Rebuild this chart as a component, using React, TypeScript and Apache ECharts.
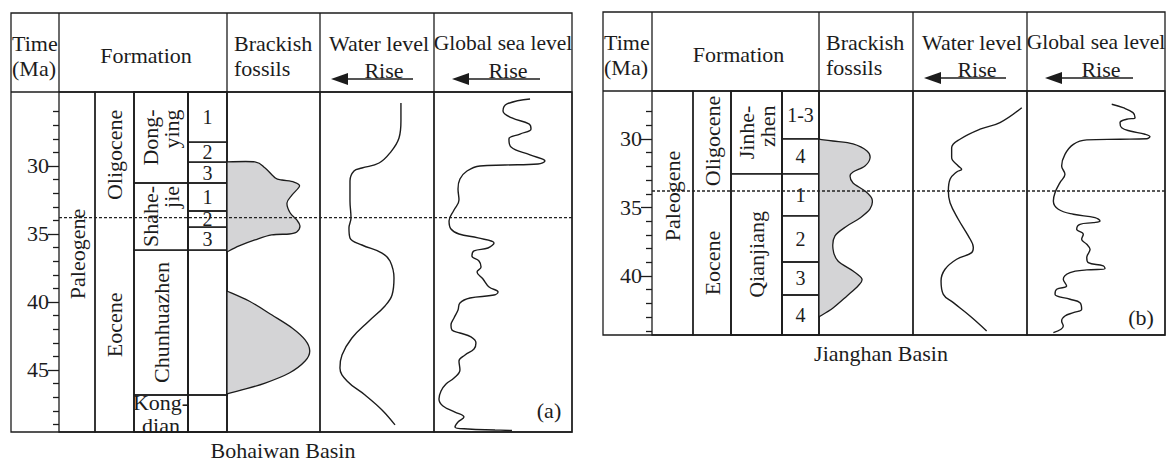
import React, { useEffect, useRef } from 'react';
import * as echarts from 'echarts';

const FONT = '"Liberation Serif", "Times New Roman", Times, serif';
const INK = '#1c1c1c';
const FILL = '#d4d4d6';
const LINE_W = 1.3;
const FS = 22;
const FS_MEMBER = 20;

type Cell = { name: string; top: number; base: number };

// ================= (a) Bohaiwan Basin =================
const A_AGE_RANGE = [24.56, 49.56]; // Ma at top / base of the column
const A_MAJOR_TICKS = [30, 35, 40, 45];
const A_MINOR_TICKS = [26, 27, 28, 29, 31, 32, 33, 34, 36, 37, 38, 39, 41, 42, 43, 44, 46, 47, 48, 49];
const A_PERIODS: Cell[] = [{ name: 'Paleogene', top: 24.56, base: 49.56 }];
const A_EPOCHS: Cell[] = [
  { name: 'Oligocene', top: 24.56, base: 33.8 },
  { name: 'Eocene', top: 33.8, base: 49.56 },
];
const A_FORMATIONS: Cell[] = [
  { name: 'Dong-\nying', top: 24.56, base: 31.25 },
  { name: 'Shahe-\njie', top: 31.25, base: 36.18 },
  { name: 'Chunhuazhen', top: 36.18, base: 46.84 },
  { name: 'Kong-\ndian', top: 46.84, base: 49.56 },
];
const A_MEMBERS: Cell[] = [
  { name: '1', top: 24.56, base: 28.24 },
  { name: '2', top: 28.24, base: 29.71 },
  { name: '3', top: 29.71, base: 31.25 },
  { name: '1', top: 31.25, base: 33.31 },
  { name: '2', top: 33.31, base: 34.49 },
  { name: '3', top: 34.49, base: 36.18 },
  { name: '', top: 36.18, base: 46.84 },
  { name: '', top: 46.84, base: 49.56 },
];
// [relative amount (0-100 of column width), age Ma]
const A_BRACKISH_UPPER = [
  [0, 29.7], [30, 29.7], [41, 30.15], [52, 30.88], [59, 31.03], [72, 31.18], [78, 31.47],
  [70, 32.13], [64.5, 32.72], [68, 33.46], [75, 33.97], [78.5, 34.41], [75, 34.85], [67, 35.0],
  [48, 35.07], [30, 35.44], [13, 35.88], [0, 36.32],
];
const A_BRACKISH_LOWER = [
  [0, 39.19], [23.7, 39.93], [48.4, 40.96], [70, 41.91], [84, 42.79], [89, 43.6], [84, 44.34],
  [67, 45.22], [41, 45.96], [16, 46.47], [0, 46.76],
];
const A_WATER_LEVEL = [
  [71, 25.37], [71, 26.69], [69.3, 27.94], [61.4, 29.04], [51.8, 29.78], [36.8, 30.15], [29.8, 30.37],
  [26.3, 31.1], [26.3, 32.57], [27.2, 33.82], [25.4, 34.56], [26.3, 35.29], [36.8, 35.81], [54.4, 36.4],
  [61.4, 36.99], [64.9, 38.24], [63.2, 39.49], [57, 40.29], [43, 41.4], [28, 42.65], [19.3, 43.9],
  [17.5, 44.85], [23.7, 45.81], [39.5, 46.84], [54.4, 47.94], [65.8, 49.04],
];
const A_SEA_LEVEL = [
  [69.6, 25.07], [52.9, 25.44], [50.0, 25.96], [56.5, 26.47], [68.8, 26.91], [70.3, 27.28], [62.3, 27.65],
  [54.3, 28.01], [55.8, 28.6], [69.6, 29.19], [80.4, 29.63], [75.4, 29.85], [51.4, 29.93], [33.3, 30.0],
  [23.9, 30.37], [18.8, 30.96], [17.4, 31.69], [18.1, 32.5], [14.5, 33.24], [10.9, 34.04], [12.3, 34.63],
  [18.1, 35.0], [31.9, 35.29], [43.5, 35.66], [39.1, 36.03], [29.0, 36.25], [27.5, 36.62], [32.6, 36.99],
  [34.1, 37.43], [31.2, 37.79], [35.5, 38.31], [39.9, 38.9], [46.4, 39.26], [43.5, 39.49], [26.1, 39.71],
  [18.8, 40.07], [17.4, 40.59], [14.5, 41.18], [12.3, 41.69], [13.0, 42.06], [18.8, 42.28], [26.8, 42.57],
  [30.4, 43.01], [29.0, 43.46], [22.5, 43.9], [18.1, 44.34], [18.8, 45.0], [14.5, 45.59], [8.7, 46.03],
  [5.1, 46.54], [3.6, 47.13], [6.5, 47.65], [15.2, 48.09], [21.7, 48.46], [17.4, 48.82], [15.2, 49.19],
  [24.6, 49.34], [44.2, 49.41], [56.5, 49.45],
];

// ================= (b) Jianghan Basin =================
const B_AGE_RANGE = [26.5, 44.31];
const B_MAJOR_TICKS = [30, 35, 40];
const B_MINOR_TICKS = [28, 29, 31, 32, 33, 34, 36, 37, 38, 39, 41, 42, 43, 44];
const B_PERIODS: Cell[] = [{ name: 'Paleogene', top: 26.5, base: 44.31 }];
const B_EPOCHS: Cell[] = [
  { name: 'Oligocene', top: 26.5, base: 33.8 },
  { name: 'Eocene', top: 33.8, base: 44.31 },
];
const B_FORMATIONS: Cell[] = [
  { name: 'Jinhe-\nzhen', top: 26.5, base: 32.55 },
  { name: 'Qianjiang', top: 32.55, base: 44.31 },
];
const B_MEMBERS: Cell[] = [
  { name: '1-3', top: 26.5, base: 30.0 },
  { name: '4', top: 30.0, base: 32.55 },
  { name: '1', top: 32.55, base: 35.62 },
  { name: '2', top: 35.62, base: 38.98 },
  { name: '3', top: 38.98, base: 41.39 },
  { name: '4', top: 41.39, base: 44.31 },
];
const B_BRACKISH = [
  [0, 30.02], [14.9, 30.15], [36.2, 30.36], [51.1, 30.88], [54.3, 31.39], [48.9, 31.97], [36.2, 32.41],
  [33.0, 32.7], [36.2, 33.21], [48.9, 33.8], [56.4, 34.38], [54.3, 35.11], [43.6, 35.77], [29.8, 36.35],
  [17.0, 37.08], [14.9, 38.03], [20.2, 38.91], [36.2, 39.64], [45.7, 40.22], [41.5, 40.73], [29.8, 41.46],
  [14.9, 42.34], [0, 42.99],
];
const B_WATER_LEVEL = [
  [95.4, 27.72], [76.3, 28.81], [58.8, 29.29], [41.2, 30.02], [33.9, 30.64], [33.9, 31.36], [39.7, 31.97],
  [42.7, 32.21], [38.3, 32.41], [32.5, 32.94], [31.0, 33.8], [32.5, 34.65], [39.7, 35.86], [48.5, 37.08],
  [52.9, 37.93], [51.5, 38.3], [38.3, 38.78], [28.1, 39.51], [24.6, 40.36], [26.6, 41.34], [35.4, 41.95],
  [50.0, 42.92], [64.6, 44.01],
];
const B_SEA_LEVEL = [
  [61.4, 27.47], [69.6, 27.72], [76.8, 28.08], [78.3, 28.45], [72.2, 28.56], [67.4, 28.81], [68.6, 29.18],
  [74.6, 29.42], [85.5, 29.66], [89.1, 29.83], [86.7, 29.98], [67.4, 30.02], [43.3, 30.07], [33.6, 30.39],
  [27.5, 31.12], [25.1, 31.97], [27.5, 32.58], [23.9, 33.19], [20.3, 33.92], [19.1, 34.53], [22.7, 35.13],
  [33.6, 35.5], [49.3, 35.74], [52.9, 35.99], [48.0, 36.11], [38.4, 36.23], [36.0, 36.59], [40.8, 36.96],
  [39.6, 37.32], [43.3, 37.69], [45.7, 38.05], [43.3, 38.66], [44.4, 39.03], [55.3, 39.27], [56.5, 39.47],
  [43.3, 39.56], [31.2, 39.76], [26.3, 40.24], [28.7, 40.73], [21.5, 40.97], [20.3, 41.34], [31.2, 41.7],
  [38.4, 41.95], [39.6, 42.43], [33.6, 42.68], [27.5, 42.92], [25.1, 43.28], [26.3, 43.65], [19.1, 44.14],
];

// ================= layout (pixels) =================
const PANELS = [
  {
    box: { left: 11, top: 13, head: 92, bottom: 432 },
    edges: [59, 95, 134, 188, 227, 320, 434, 572],
    range: A_AGE_RANGE, major: A_MAJOR_TICKS, minor: A_MINOR_TICKS,
    periods: A_PERIODS, epochs: A_EPOCHS, formations: A_FORMATIONS, members: A_MEMBERS,
    brackish: [A_BRACKISH_UPPER, A_BRACKISH_LOWER], water: A_WATER_LEVEL, sea: A_SEA_LEVEL,
    tag: '(a)', tagPos: [549, 410], caption: 'Bohaiwan Basin', captionPos: [283, 450], periodShift: -8,
  },
  {
    box: { left: 603, top: 12, head: 91, bottom: 335 },
    edges: [652, 693, 731, 782, 819, 913, 1027, 1165],
    range: B_AGE_RANGE, major: B_MAJOR_TICKS, minor: B_MINOR_TICKS,
    periods: B_PERIODS, epochs: B_EPOCHS, formations: B_FORMATIONS, members: B_MEMBERS,
    brackish: [B_BRACKISH], water: B_WATER_LEVEL, sea: B_SEA_LEVEL,
    tag: '(b)', tagPos: [1141, 317], caption: 'Jianghan Basin', captionPos: [881, 353], periodShift: -17,
  },
];

let measureCtx: CanvasRenderingContext2D | null = null;
function measure(s: string): number {
  if (!measureCtx) measureCtx = document.createElement('canvas').getContext('2d');
  if (!measureCtx) return s.length * 11;
  measureCtx.font = `${FS}px ${FONT}`;
  return measureCtx.measureText(s).width;
}

function smoothPath(pts: number[][]): string {
  let d = `M${pts[0][0]},${pts[0][1]}`;
  for (let i = 0; i < pts.length - 1; i++) {
    const p0 = pts[i - 1] || pts[i];
    const p1 = pts[i];
    const p2 = pts[i + 1];
    const p3 = pts[i + 2] || p2;
    const c1x = p1[0] + (p2[0] - p0[0]) / 6;
    const c1y = p1[1] + (p2[1] - p0[1]) / 6;
    const c2x = p2[0] - (p3[0] - p1[0]) / 6;
    const c2y = p2[1] - (p3[1] - p1[1]) / 6;
    d += ` C${c1x},${c1y} ${c2x},${c2y} ${p2[0]},${p2[1]}`;
  }
  return d;
}

function cellSeries(cells: Cell[], axis: number, mode: string, shift = 0) {
  const boxed = mode === 'formation' || mode === 'member';
  return {
    type: 'custom',
    xAxisIndex: axis,
    yAxisIndex: axis,
    silent: true,
    data: cells.map((c, i) => [c.top, c.base, i]),
    renderItem: (_p: any, api: any) => {
      const a = api.coord([0, api.value(0)]);
      const b = api.coord([100, api.value(1)]);
      const children: any[] = [];
      if (boxed) {
        children.push({
          type: 'rect',
          shape: { x: a[0], y: a[1], width: b[0] - a[0], height: b[1] - a[1] },
          style: { fill: 'none', stroke: INK, lineWidth: LINE_W },
        });
      }
      const name = cells[api.value(2)].name;
      if (name) {
        const cx = (a[0] + b[0]) / 2;
        const cy = (a[1] + b[1]) / 2 + shift;
        const lines = name.split('\n');
        const rotate = mode === 'member' ? false : mode === 'formation' ? b[1] - a[1] > 50 : true;
        if (rotate) {
          const multi = lines.length > 1;
          const w = Math.max(...lines.map(measure));
          children.push({
            type: 'text',
            x: cx,
            y: multi ? cy - w / 2 : cy,
            rotation: Math.PI / 2,
            style: {
              text: name, fill: INK, fontSize: FS, fontFamily: FONT,
              align: multi ? 'right' : 'center', verticalAlign: 'middle', lineHeight: 21,
            },
          });
        } else {
          const fs = mode === 'member' ? FS_MEMBER : FS;
          children.push({
            type: 'text', x: cx, y: cy,
            style: {
              text: name, fill: INK, fontSize: fs, fontFamily: FONT, align: 'center',
              verticalAlign: 'middle', lineHeight: mode === 'member' ? 16 : 23,
            },
          });
        }
      }
      return { type: 'group', children };
    },
  };
}

function buildOption() {
  const grid: any[] = [];
  const xAxis: any[] = [];
  const yAxis: any[] = [];
  const extraY: any[] = [];
  const series: any[] = [];
  const elements: any[] = [];

  const text = (x: number, y: number, t: string, align = 'center', fs = FS) => ({
    type: 'text', x, y, silent: true,
    style: { text: t, fill: INK, fontSize: fs, fontFamily: FONT, align, verticalAlign: 'middle' },
  });
  const line = (x1: number, y1: number, x2: number, y2: number) => ({
    type: 'line', silent: true, shape: { x1, y1, x2, y2 }, style: { stroke: INK, lineWidth: LINE_W },
  });
  const arrow = (x0: number, x1: number, y: number) => [
    line(x0 + 10, y, x1, y),
    { type: 'polygon', silent: true, shape: { points: [[x0, y], [x0 + 17, y - 6], [x0 + 17, y + 6]] }, style: { fill: INK } },
  ];

  PANELS.forEach((P) => {
    const { box, edges } = P;
    const addGrid = (x0: number, x1: number, show = true) => {
      const gi = grid.length;
      grid.push({
        left: x0, top: box.head, width: x1 - x0, height: box.bottom - box.head,
        show, borderColor: INK, borderWidth: LINE_W, backgroundColor: 'transparent',
        containLabel: false, outerBoundsMode: 'none',
      });
      xAxis.push({ gridIndex: gi, type: 'value', min: 0, max: 100, show: false });
      yAxis.push({ gridIndex: gi, type: 'value', inverse: true, min: P.range[0], max: P.range[1], show: false });
      return gi;
    };
    const cols = [0, 1, 2, 3, 4, 5, 6].map((c) => addGrid(edges[c], edges[c + 1]));
    const overlay = addGrid(edges[0], edges[7], false);

    // time axis on the left of the first column
    const axisBase = {
      type: 'value', inverse: true, min: P.range[0], max: P.range[1], position: 'left', offset: 0,
      axisLine: { show: false }, splitLine: { show: false },
    };
    yAxis[cols[0]] = {
      ...axisBase, gridIndex: cols[0], show: true,
      axisTick: { show: true, customValues: P.major, length: 11, lineStyle: { color: INK, width: LINE_W } },
      axisLabel: {
        show: true, customValues: P.major, margin: 10, fontSize: FS, fontFamily: FONT, color: INK,
        padding: [6, 0, 0, 0],
      },
    };
    extraY.push({
      ...axisBase, gridIndex: cols[0], show: true,
      axisTick: { show: true, customValues: P.minor, length: 6, lineStyle: { color: INK, width: LINE_W } },
      axisLabel: { show: false },
    });

    series.push(cellSeries(P.periods, cols[0], 'period', P.periodShift));
    series.push(cellSeries(P.epochs, cols[1], 'epoch'));
    series.push(cellSeries(P.formations, cols[2], 'formation'));
    series.push(cellSeries(P.members, cols[3], 'member'));

    P.brackish.forEach((poly) => {
      series.push({
        type: 'custom', xAxisIndex: cols[4], yAxisIndex: cols[4], silent: true,
        data: [[0, poly[0][1]]],
        renderItem: (_p: any, api: any) => {
          const pts = poly.map((d) => api.coord(d));
          return {
            type: 'path',
            shape: { pathData: smoothPath(pts) + ' Z' },
            style: { fill: FILL, stroke: INK, lineWidth: LINE_W },
          };
        },
      });
    });

    [[P.water, cols[5]], [P.sea, cols[6]]].forEach(([data, gi]: any) => {
      series.push({
        type: 'line', xAxisIndex: gi, yAxisIndex: gi, data, smooth: 0.4, symbol: 'none', silent: true,
        lineStyle: { color: INK, width: 1.4 },
      });
    });

    const boundary = P.epochs[0].base;
    series.push({
      type: 'line', xAxisIndex: overlay, yAxisIndex: overlay, silent: true, symbol: 'none', z: 5,
      data: [[0, boundary], [100, boundary]],
      lineStyle: { color: '#222', width: 1.3, type: [3, 2] },
    });

    // header and frame
    const right = edges[7];
    elements.push({
      type: 'rect', silent: true,
      shape: { x: box.left, y: box.top, width: right - box.left, height: box.bottom - box.top },
      style: { fill: 'none', stroke: INK, lineWidth: LINE_W },
    });
    elements.push(line(box.left, box.head, right, box.head));
    [edges[0], edges[4], edges[5], edges[6]].forEach((x) => elements.push(line(x, box.top, x, box.head)));
    const l1 = box.top + 30;
    const l2 = box.top + 55;
    elements.push(text(box.left + 1, l1, 'Time', 'left'));
    elements.push(text(box.left + 1, l2, '(Ma)', 'left'));
    elements.push(text((edges[0] + edges[4]) / 2 + 3, box.top + 42, 'Formation'));
    elements.push(text(edges[4] + 7, l1, 'Brackish', 'left'));
    elements.push(text(edges[4] + 7, l2, 'fossils', 'left'));
    elements.push(text((edges[5] + edges[6]) / 2 + 2, l1, 'Water level'));
    elements.push(text(edges[5] + 64, box.top + 57, 'Rise'));
    elements.push(...arrow(edges[5] + 11, edges[5] + 93, box.top + 66));
    elements.push(text((edges[6] + edges[7]) / 2, l1, 'Global sea level', 'center', 21.5));
    elements.push(text(edges[6] + 74, box.top + 57, 'Rise'));
    elements.push(...arrow(edges[6] + 18, edges[6] + 106, box.top + 66));
    elements.push(text(P.tagPos[0], P.tagPos[1], P.tag));
    elements.push(text(P.captionPos[0], P.captionPos[1], P.caption));
  });

  return {
    animation: false,
    backgroundColor: '#ffffff',
    textStyle: { fontFamily: FONT },
    grid,
    xAxis,
    yAxis: [...yAxis, ...extraY],
    series,
    graphic: { elements },
  };
}

export default function App() {
  const ref = useRef<HTMLDivElement>(null);
  useEffect(() => {
    if (!ref.current) return;
    const chart = echarts.init(ref.current, null, { renderer: 'svg' });
    chart.setOption(buildOption() as any);
    return () => chart.dispose();
  }, []);
  return (
    <div
      ref={ref}
      style={{ position: 'fixed', left: 0, top: 0, width: 1166, height: 462, background: '#fff' }}
    />
  );
}
